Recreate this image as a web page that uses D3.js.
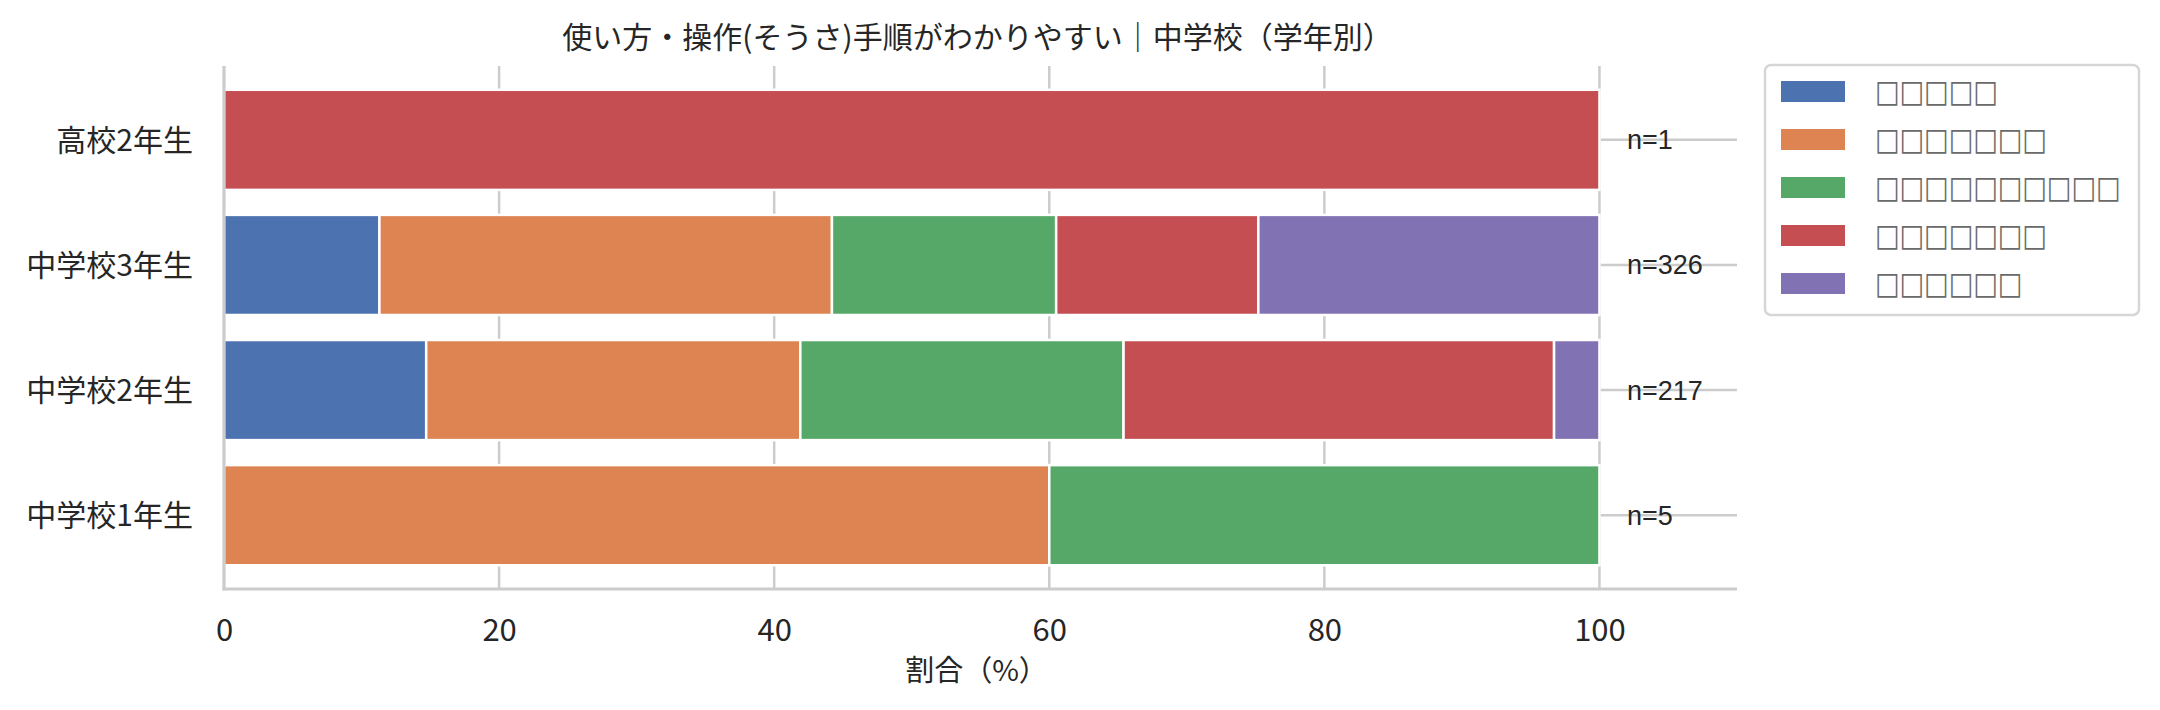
<!DOCTYPE html>
<html>
<head>
<meta charset="utf-8">
<script src="https://cdn.jsdelivr.net/npm/d3@7"></script>
<style>
  html, body { margin: 0; padding: 0; background: #fff; }
  svg { display: block; }
</style>
</head>
<body>
<svg id="chart" width="2160" height="710"></svg>
<script>
// ---- data ----
const categories = ["中学校1年生", "中学校2年生", "中学校3年生", "高校2年生"];
const nLabels = ["n=5", "n=217", "n=326", "n=1"];
const seriesNames = ["□□□□□", "□□□□□□□", "□□□□□□□□□□", "□□□□□□□", "□□□□□□"];
const series1 = [0, 14.7, 11.3, 0];
const series2 = [60, 27.2, 32.9, 0];
const series3 = [40, 23.5, 16.3, 0];
const series4 = [0, 31.3, 14.7, 100];
const series5 = [0, 3.3, 24.8, 0];
const colors = ["#4c72b0", "#dd8452", "#55a868", "#c44e52", "#8172b3"];
const xTicks = [0, 20, 40, 60, 80, 100];
const titleText = "使い方・操作(そうさ)手順がわかりやすい｜中学校（学年別）";
const xLabelText = "割合（%）";

(function () {
const allSeries = [series1, series2, series3, series4, series5];

const svg = d3.select("#chart");
const pL = 224, pR = 1737, pT = 66, pB = 589;
const cjk = "'Noto Sans CJK JP', 'Noto Sans', sans-serif";

const x = d3.scaleLinear().domain([0, 110]).range([pL, pR]);
const y = d3.scaleLinear().domain([-0.59, categories.length - 1 + 0.59]).range([pB, pT]);

// grid (behind)
const grid = svg.append("g");
grid.selectAll("line.vg").data(xTicks).join("line")
  .attr("x1", d => x(d)).attr("x2", d => x(d))
  .attr("y1", pT).attr("y2", pB)
  .attr("stroke", "#cccccc").attr("stroke-width", 2.5);
grid.selectAll("line.hg").data(categories).join("line")
  .attr("x1", pL).attr("x2", pR)
  .attr("y1", (d, i) => y(i)).attr("y2", (d, i) => y(i))
  .attr("stroke", "#cccccc").attr("stroke-width", 2.5);

// stacked bars
const stackData = categories.map((c, i) => {
  const o = { i };
  allSeries.forEach((s, k) => o["s" + k] = s[i]);
  return o;
});
const stack = d3.stack().keys(allSeries.map((s, k) => "s" + k));
const layers = stack(stackData);
const barH = 0.8;
svg.append("g").selectAll("g").data(layers).join("g")
  .attr("fill", (d, k) => colors[k])
  .selectAll("rect").data(d => d.filter(p => p[1] - p[0] > 0)).join("rect")
  .attr("x", p => x(p[0]))
  .attr("width", p => x(p[1]) - x(p[0]))
  .attr("y", p => y(p.data.i + barH / 2))
  .attr("height", p => y(p.data.i - barH / 2) - y(p.data.i + barH / 2))
  .attr("stroke", "#ffffff").attr("stroke-width", 2.5);

// spines
svg.append("line").attr("x1", pL).attr("x2", pL).attr("y1", pT).attr("y2", pB + 1.5)
  .attr("stroke", "#cccccc").attr("stroke-width", 3);
svg.append("line").attr("x1", pL - 1.5).attr("x2", pR).attr("y1", pB).attr("y2", pB)
  .attr("stroke", "#cccccc").attr("stroke-width", 3);

// x axis tick labels
const xAxis = d3.axisBottom(x).tickValues(xTicks).tickSize(0).tickPadding(0).tickFormat(d3.format("d"));
const gx = svg.append("g").attr("transform", `translate(0,${pB})`).call(xAxis);
gx.select(".domain").remove();
gx.selectAll("text").attr("y", 41).attr("dy", "0.35em")
  .attr("font-family", cjk).attr("font-size", 31).attr("fill", "#262626");

// y axis tick labels
const yAxis = d3.axisLeft(y).tickValues(categories.map((c, i) => i)).tickSize(0).tickPadding(0)
  .tickFormat(i => categories[i]);
const gy = svg.append("g").attr("transform", `translate(${pL},0)`).call(yAxis);
gy.select(".domain").remove();
gy.selectAll("text").attr("x", -31).attr("dy", "0.35em")
  .attr("font-family", cjk).attr("font-size", 30).attr("fill", "#262626");

// n labels
svg.append("g").selectAll("text").data(nLabels).join("text")
  .attr("x", x(102)).attr("y", (d, i) => y(i)).attr("dy", "0.35em")
  .attr("font-family", "'Liberation Sans', Arial, sans-serif").attr("font-size", 27)
  .attr("fill", "#262626").text(d => d);

// title
svg.append("text").attr("x", (pL + pR) / 2 - 3).attr("y", 37).attr("dy", "0.35em")
  .attr("text-anchor", "middle").attr("font-family", cjk).attr("font-size", 30)
  .attr("fill", "#262626").text(titleText);

// x label
svg.append("text").attr("x", (pL + pR) / 2 - 4).attr("y", 671).attr("dy", "0.35em")
  .attr("text-anchor", "middle").attr("font-family", cjk).attr("font-size", 29)
  .attr("fill", "#262626").text(xLabelText);

// legend
const lg = svg.append("g");
lg.append("rect").attr("x", 1765).attr("y", 65).attr("width", 374).attr("height", 250)
  .attr("rx", 6).attr("fill", "#ffffff").attr("stroke", "#d6d6d6").attr("stroke-width", 2.5);
const items = lg.selectAll("g.item").data(seriesNames).join("g")
  .attr("transform", (d, k) => `translate(0,${91.5 + 48 * k})`);
items.append("rect").attr("x", 1781).attr("y", -10.5).attr("width", 64).attr("height", 21)
  .attr("fill", (d, k) => colors[k]);
items.append("text").attr("x", 1875).attr("y", 0).attr("dy", "0.35em")
  .attr("transform", "translate(0,0) scale(1,1.2)")
  .attr("transform-origin", "1875px 0px")
  .attr("font-family", "'DejaVu Sans', sans-serif").attr("font-size", 26)
  .attr("fill", "#6a6a6a").text(d => d);
})();
</script>
</body>
</html>
